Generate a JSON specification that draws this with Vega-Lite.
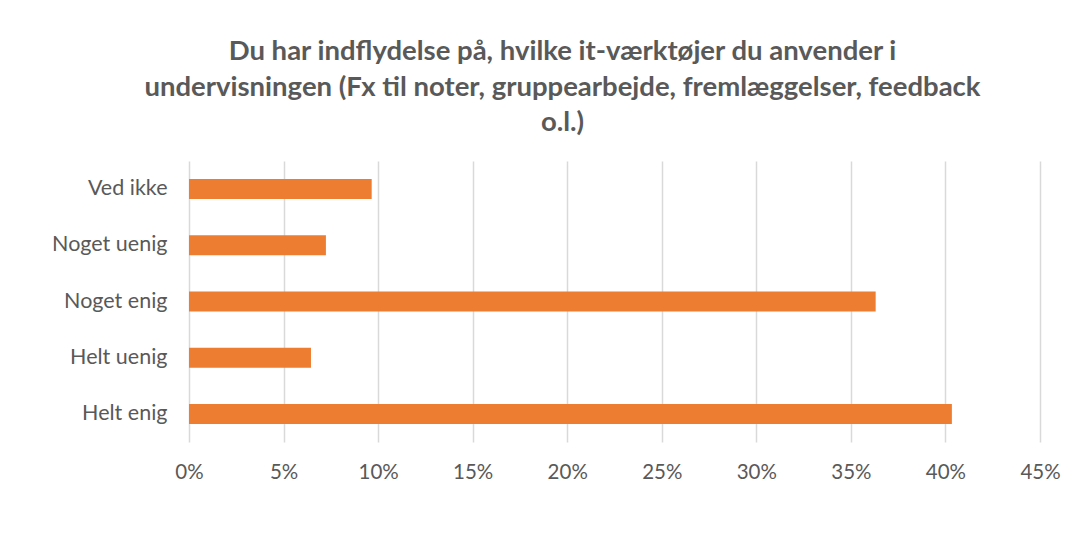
{
  "$schema": "https://vega.github.io/schema/vega-lite/v6.json",
  "autosize": "none",
  "width": 851,
  "height": 281,
  "padding": {"left": 189, "top": 161, "right": 40, "bottom": 116},
  "background": "white",
  "title": {
    "text": ["Du har indflydelse på, hvilke it-værktøjer du anvender i", "undervisningen (Fx til noter, gruppearbejde, fremlæggelser, feedback", "o.l.)"],
    "anchor": "middle",
    "dx": -52,
    "offset": 24.5,
    "font": "Lato",
    "fontSize": 27.5,
    "fontWeight": "bold",
    "color": "#595959",
    "lineHeight": 35.5
  },
  "data": {
    "values": [
      {"svar": "Ved ikke", "andel": 0.0966},
      {"svar": "Noget uenig", "andel": 0.0724},
      {"svar": "Noget enig", "andel": 0.3631},
      {"svar": "Helt uenig", "andel": 0.0645},
      {"svar": "Helt enig", "andel": 0.4034}
    ]
  },
  "mark": {"type": "bar", "color": "#ED7D31"},
  "encoding": {
    "y": {
      "field": "svar",
      "type": "nominal",
      "sort": ["Ved ikke", "Noget uenig", "Noget enig", "Helt uenig", "Helt enig"],
      "scale": {"paddingInner": 0.645, "paddingOuter": 0.3225},
      "axis": {"title": null, "domain": false, "ticks": false, "labelPadding": 22, "labelFont": "Lato", "labelFontSize": 21.5, "labelColor": "#595959"}
    },
    "x": {
      "field": "andel",
      "type": "quantitative",
      "scale": {"domain": [0, 0.45], "nice": false},
      "axis": {"title": null, "format": ".0%", "values": [0, 0.05, 0.1, 0.15, 0.2, 0.25, 0.3, 0.35, 0.4, 0.45], "domain": false, "ticks": false, "grid": true, "gridColor": "#d9d9d9", "gridWidth": 1.5, "labelFlush": false, "labelPadding": 20, "labelFont": "Lato", "labelFontSize": 20.5, "labelColor": "#595959"}
    }
  },
  "config": {"view": {"stroke": null}}
}
